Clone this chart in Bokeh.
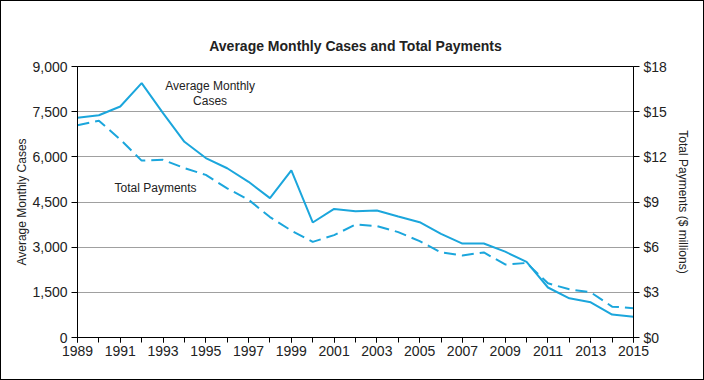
from bokeh.plotting import figure
from bokeh.models import (Range1d, LinearAxis, FixedTicker, NumeralTickFormatter,
                          ColumnDataSource, Label)
from bokeh.embed import file_html
from bokeh.resources import INLINE

years = list(range(1989, 2016))
cases = [7300, 7380, 7670, 8450, 7450, 6500, 5960, 5620, 5170, 4630, 5550, 3820,
         4270, 4190, 4220, 4020, 3830, 3440, 3120, 3120, 2850, 2510, 1660, 1300,
         1170, 760, 690]
payments = [14.1, 14.4, 13.15, 11.75, 11.8, 11.25, 10.8, 9.9, 9.15, 8.0, 7.1, 6.35,
            6.8, 7.5, 7.4, 7.0, 6.4, 5.65, 5.45, 5.65, 4.85, 4.95, 3.6, 3.2,
            3.0, 2.05, 1.95]
left_ticks = [0, 1500, 3000, 4500, 6000, 7500, 9000]
right_ticks = [0, 3, 6, 9, 12, 15, 18]
x_label_years = list(range(1989, 2016, 2))
title_text = "Average Monthly Cases and Total Payments"

FONT = "Liberation Sans"
BLUE = "#1ba6dc"
TXT = "#222222"

src = ColumnDataSource(dict(year=years, cases=cases, pay=payments))

p = figure(width=704, height=380, output_backend="svg", toolbar_location=None,
           x_range=Range1d(1989, 2015), y_range=Range1d(0, 9000),
           min_border_left=76, min_border_right=72, min_border_top=65,
           min_border_bottom=44)
p.styles = {"border": "1px solid black"}
p.extra_y_ranges = {"pay": Range1d(0, 18)}

p.title.text = title_text
p.title.align = "center"
p.title.text_font = FONT
p.title.text_font_size = "14px"
p.title.text_font_style = "bold"
p.title.text_color = TXT
p.title.offset = 0
p.title.standoff = 26

p.line("year", "cases", source=src, line_color=BLUE, line_width=2)
p.line("year", "pay", source=src, y_range_name="pay", line_color=BLUE,
       line_width=2, line_dash="12 6")

p.outline_line_color = "black"
p.outline_line_width = 1
p.xgrid.grid_line_color = None
p.ygrid.grid_line_color = "#a0a0a0"
p.ygrid.ticker = FixedTicker(ticks=left_ticks)

# x axis
xa = p.xaxis[0]
xa.ticker = FixedTicker(ticks=x_label_years, minor_ticks=years)
xa.minor_tick_out = 5
xa.minor_tick_in = 0
xa.major_tick_out = 5
xa.major_tick_in = 0

# left axis
ya = p.yaxis[0]
ya.ticker = FixedTicker(ticks=left_ticks)
ya.formatter = NumeralTickFormatter(format="0,0")
ya.axis_label = "Average Monthly Cases"
ya.minor_tick_line_color = None
ya.major_tick_out = 6
ya.major_tick_in = 0

ra = LinearAxis(y_range_name="pay", ticker=FixedTicker(ticks=right_ticks),
                formatter=NumeralTickFormatter(format="$0"),
                axis_label="Total Payments ($ millions)")
ra.minor_tick_line_color = None
ra.major_tick_out = 6
ra.major_tick_in = 0
p.add_layout(ra, "right")

for ax in [xa, ya, ra]:
    ax.axis_line_color = "black"
    ax.major_tick_line_color = "black"
    ax.major_label_text_font = FONT
    ax.major_label_text_font_size = "14px"
    ax.major_label_text_color = TXT
    ax.axis_label_text_font = FONT
    ax.axis_label_text_font_size = "12px"
    ax.axis_label_text_font_style = "normal"
    ax.axis_label_text_color = TXT
xa.minor_tick_line_color = "black"
xa.major_label_standoff = 3
ya.major_label_standoff = 4
ra.major_label_standoff = 4
ya.axis_label_standoff = 0
ra.axis_label_standoff = 6

for txt, xv, yv in [("Average Monthly", 1995.2, 8340), ("Cases", 1995.2, 7840),
                    ("Total Payments", 1992.65, 4960)]:
    p.add_layout(Label(x=xv, y=yv, text=txt, text_font=FONT,
                       text_font_size="12px", text_align="center",
                       text_baseline="middle", text_color=TXT))

open("out.html", "w").write(file_html(p, INLINE))
